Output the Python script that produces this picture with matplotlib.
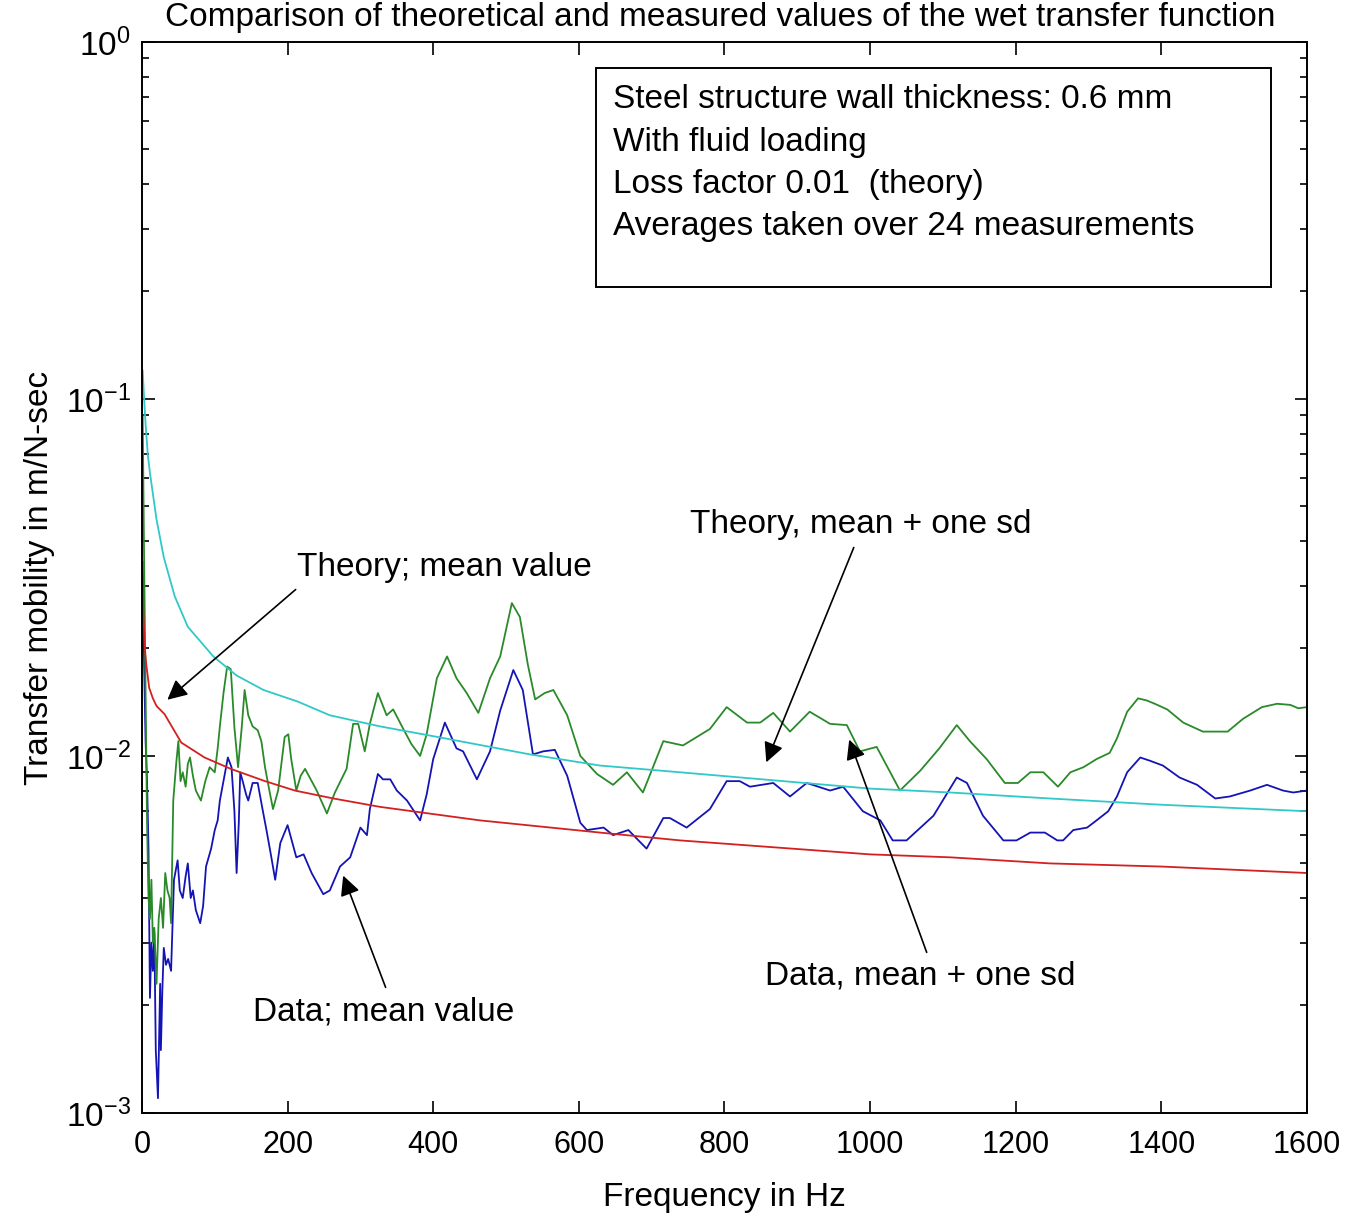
import numpy as np
import matplotlib
matplotlib.use('Agg')
import matplotlib.pyplot as plt
from matplotlib.patches import Rectangle

plt.rcParams['font.family'] = ['Liberation Sans', 'DejaVu Sans']

# data; mean value (blue)
f_mean = [1, 3, 5, 7, 9, 11, 13, 15, 17, 19, 22, 25, 26, 28, 30, 33, 36, 40, 44, 49,
          52, 56, 60, 63, 67, 70, 74, 80, 84, 88, 95, 100, 104, 107, 112, 118, 123, 127,
          130, 133, 135, 139, 143, 146, 152, 159, 165, 171, 177, 183, 190, 200, 212, 222,
          233, 249, 258, 272, 286, 300, 309, 313, 324, 331, 341, 350, 364, 382, 391, 400,
          416, 432, 441, 460, 478, 492, 510, 523, 537, 551, 567, 584, 602, 611, 634, 647,
          668, 693, 716, 725, 748, 780, 803, 821, 835, 867, 890, 913, 945, 963, 990, 1014,
          1031, 1050, 1087, 1119, 1133, 1155, 1183, 1201, 1220, 1240, 1257, 1265, 1279,
          1298, 1311, 1327, 1339, 1353, 1371, 1384, 1402, 1425, 1449, 1474, 1494, 1522,
          1545, 1567, 1581, 1600]
data_mean = [0.035, 0.018, 0.011, 0.0085, 0.0055, 0.0021, 0.003, 0.0025, 0.0032, 0.0015,
             0.0011, 0.0023, 0.0015, 0.0022, 0.0029, 0.0026, 0.0027, 0.0025, 0.0045, 0.0051,
             0.0042, 0.004, 0.0046, 0.005, 0.004, 0.0042, 0.0037, 0.0034, 0.0038, 0.0049,
             0.0055, 0.0062, 0.0066, 0.0075, 0.0085, 0.0099, 0.0093, 0.007, 0.0047, 0.0065,
             0.009, 0.0084, 0.0078, 0.0075, 0.0084, 0.0084, 0.0072, 0.0062, 0.0053, 0.0045,
             0.0057, 0.0064, 0.0052, 0.0053, 0.0047, 0.0041, 0.0042, 0.0049, 0.0052, 0.0063,
             0.006, 0.0071, 0.0089, 0.0086, 0.0086, 0.008, 0.0075, 0.0066, 0.0078, 0.0098,
             0.0124, 0.0105, 0.0103, 0.0086, 0.0103, 0.0134, 0.0174, 0.0153, 0.0101, 0.0103,
             0.0104, 0.0088, 0.0065, 0.0062, 0.0063, 0.006, 0.0062, 0.0055, 0.0067, 0.0067,
             0.0063, 0.0071, 0.0085, 0.0085, 0.0082, 0.0084, 0.0077, 0.0084, 0.008, 0.0082,
             0.007, 0.0066, 0.0058, 0.0058, 0.0068, 0.0087, 0.0084, 0.0068, 0.0058, 0.0058,
             0.0061, 0.0061, 0.0058, 0.0058, 0.0062, 0.0063, 0.0066, 0.007, 0.0077, 0.009,
             0.0099, 0.0097, 0.0094, 0.0087, 0.0083, 0.0076, 0.0077, 0.008, 0.0083, 0.008,
             0.0079, 0.008]

# data; mean + one sd (green)
f_sd = [1, 3, 5, 7, 9, 11, 13, 15, 17, 20, 23, 26, 29, 32, 35, 38, 40, 43, 47, 50, 53,
        56, 60, 63, 66, 70, 74, 81, 87, 93, 100, 104, 107, 112, 117, 122, 127, 132, 137,
        141, 146, 152, 159, 164, 169, 175, 180, 187, 196, 201, 205, 212, 218, 224, 240,
        254, 265, 281, 290, 297, 306, 313, 324, 336, 345, 358, 370, 382, 391, 405, 419,
        432, 446, 462, 478, 492, 508, 519, 530, 540, 553, 565, 584, 602, 625, 647, 666,
        688, 716, 743, 780, 803, 831, 849, 867, 890, 917, 945, 968, 986, 1009, 1041, 1069,
        1095, 1119, 1137, 1160, 1185, 1203, 1220, 1238, 1258, 1275, 1293, 1311, 1329,
        1339, 1353, 1368, 1380, 1391, 1408, 1430, 1457, 1491, 1512, 1538, 1559, 1577,
        1588, 1600]
data_sd = [0.09, 0.035, 0.015, 0.0065, 0.004, 0.0035, 0.0045, 0.003, 0.0033, 0.0023,
           0.0035, 0.004, 0.0033, 0.0047, 0.0042, 0.004, 0.0034, 0.0075, 0.0095, 0.011,
           0.0085, 0.009, 0.0082, 0.0095, 0.0099, 0.0088, 0.008, 0.0075, 0.0085, 0.0093,
           0.009, 0.0105, 0.0121, 0.015, 0.0178, 0.0175, 0.012, 0.0093, 0.012, 0.0153,
           0.013, 0.0121, 0.0118, 0.011, 0.0093, 0.008, 0.0071, 0.008, 0.0113, 0.0115,
           0.0098, 0.008, 0.0088, 0.0092, 0.008, 0.0069, 0.0079, 0.0092, 0.0123, 0.0123,
           0.0103, 0.0123, 0.015, 0.013, 0.0135, 0.012, 0.0108, 0.01, 0.0115, 0.0165, 0.019,
           0.0165, 0.015, 0.0132, 0.0165, 0.019, 0.0268, 0.0245, 0.018, 0.0144, 0.015,
           0.0153, 0.013, 0.01, 0.0089, 0.0083, 0.009, 0.0079, 0.011, 0.0107, 0.0119,
           0.0137, 0.0124, 0.0124, 0.0132, 0.0117, 0.0133, 0.0123, 0.0122, 0.0103, 0.0106,
           0.008, 0.0091, 0.0105, 0.0122, 0.011, 0.0098, 0.0084, 0.0084, 0.009, 0.009,
           0.0082, 0.009, 0.0093, 0.0098, 0.0102, 0.0112, 0.0133, 0.0145, 0.0143, 0.014,
           0.0135, 0.0124, 0.0117, 0.0117, 0.0127, 0.0137, 0.014, 0.0139, 0.0136, 0.0137]

# theory; mean value (red)
f_th = [1, 2, 4, 6, 10, 15, 20, 31, 54, 86, 122, 169, 210, 263, 327, 464, 629, 739,
        1000, 1110, 1247, 1400, 1600]
theory_mean = [0.032, 0.025, 0.02, 0.018, 0.0155, 0.0145, 0.0138, 0.0131, 0.0109, 0.0099,
               0.0092, 0.0085, 0.008, 0.0076, 0.0072, 0.0066, 0.0061, 0.0058, 0.0053,
               0.0052, 0.005, 0.0049, 0.0047]

# theory; mean + one sd (cyan)
f_th_sd = [1, 3, 5, 8, 11, 20, 30, 45, 63, 98, 130, 167, 214, 258, 327, 396, 533, 629,
           739, 1000, 1110, 1247, 1400, 1600]
theory_sd = [0.12, 0.1, 0.085, 0.07, 0.062, 0.046, 0.036, 0.028, 0.023, 0.019, 0.0168,
             0.0153, 0.0142, 0.013, 0.0121, 0.0114, 0.0101, 0.0094, 0.009, 0.0081, 0.0079,
             0.0076, 0.0073, 0.007]

fig = plt.figure(figsize=(13.48, 12.19), dpi=100)
ax = fig.add_axes([0.1053, 0.087, 0.8643, 0.8786])

ax.plot(f_mean, data_mean, color='#1414b4', lw=1.3)
ax.plot(f_sd, data_sd, color='#2a8a2a', lw=1.3)
ax.plot(f_th, theory_mean, color='#d42020', lw=1.3)
ax.plot(f_th_sd, theory_sd, color='#30c8c8', lw=1.3)

ax.set_yscale('log')
ax.set_xlim(0, 1600)
ax.set_ylim(1e-3, 1)
ax.set_xticks(range(0, 1601, 200))
ax.tick_params(which='both', direction='in', top=True, right=True, width=1.2)
ax.tick_params(which='major', length=9)
ax.tick_params(which='minor', length=5)
ax.tick_params(axis='x', pad=12, labelsize=22)
ax.tick_params(axis='y', pad=8, labelsize=24)
for s in ax.spines.values():
    s.set_linewidth(1.4)

ax.set_xlabel('Frequency in Hz', fontsize=24, labelpad=16)
ax.set_ylabel('Transfer mobility in m/N-sec', fontsize=24, labelpad=8)
fig.text(0.534, 1 - 26 / 1219, 'Comparison of theoretical and measured values of the wet transfer function',
         ha='center', va='baseline', fontsize=24)

# info box
ax.add_patch(Rectangle((0.3897, 0.7712), 0.5793, 0.2045, transform=ax.transAxes,
                       fill=False, edgecolor='black', lw=1.4))
box_lines = ['Steel structure wall thickness: 0.6 mm', 'With fluid loading',
             'Loss factor 0.01  (theory)', 'Averages taken over 24 measurements']
for i, t in enumerate(box_lines):
    ax.text(0.4043, 0.9458 - i * 0.0395, t, transform=ax.transAxes, ha='left', va='center',
            fontsize=24)

# annotations
arrow = dict(arrowstyle='-|>', color='black', lw=1.2, mutation_scale=30)
ax.text(213, 0.0338, 'Theory; mean value', ha='left', va='center', fontsize=24)
ax.annotate('', xy=(32, 0.0142), xytext=(214, 0.0296), arrowprops=arrow)
ax.text(753, 0.0444, 'Theory, mean + one sd', ha='left', va='center', fontsize=24)
ax.annotate('', xy=(856, 0.00944), xytext=(979, 0.039), arrowprops=arrow)
ax.text(152, 0.00192, 'Data; mean value', ha='left', va='center', fontsize=24)
ax.annotate('', xy=(275, 0.0047), xytext=(336, 0.00221), arrowprops=arrow)
ax.text(856, 0.00242, 'Data, mean + one sd', ha='left', va='center', fontsize=24)
ax.annotate('', xy=(970, 0.0113), xytext=(1079, 0.00277), arrowprops=arrow)

fig.savefig('out.png', dpi=100)
